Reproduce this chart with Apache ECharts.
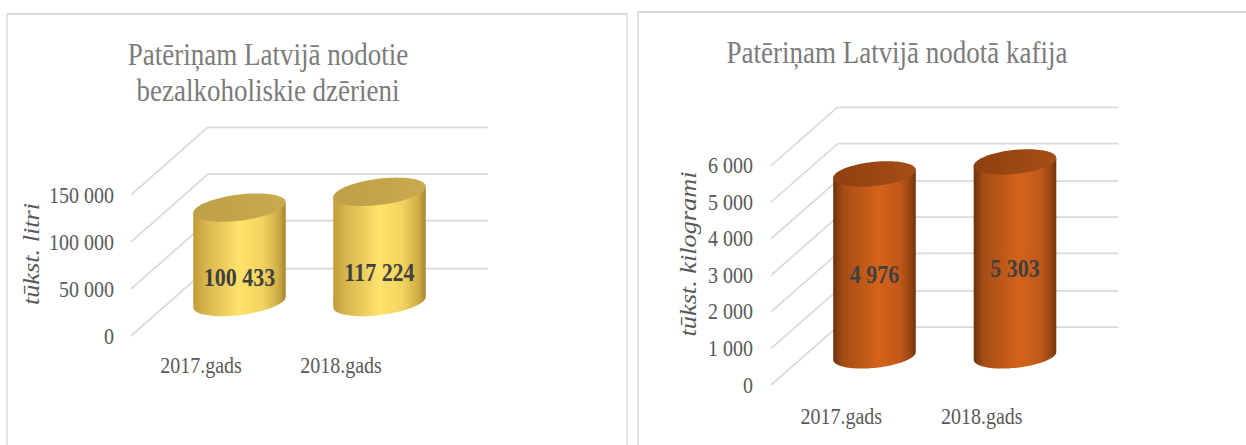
<!DOCTYPE html>
<html><head><meta charset="utf-8">
<script src="https://cdn.jsdelivr.net/npm/echarts@6/dist/echarts.min.js"></script>
<style>
html,body{margin:0;padding:0;background:#fff;width:1246px;height:445px;}
#wrap{position:relative;width:1246px;height:445px;overflow:visible;}
#c{position:absolute;left:0;top:0;width:1246px;height:381px;transform:scaleY(1.16798);transform-origin:0 0;}
</style></head><body><div id="wrap"><div id="c"></div></div>
<script>
// ---- data ----
const categories = ['2017.gads', '2018.gads'];
const drinksValues = [100433, 117224];
const coffeeValues = [4976, 5303];
const drinksTicks = [0, 50000, 100000, 150000];
const coffeeTicks = [0, 1000, 2000, 3000, 4000, 5000, 6000];
const drinksTitle = 'Patēriņam Latvijā nodotie\nbezalkoholiskie dzērieni';
const coffeeTitle = 'Patēriņam Latvijā nodotā kafija';
const drinksUnit = 'tūkst. litri';
const coffeeUnit = 'tūkst. kilogrami';

// ---- layout / style ----
const S = 445 / 381;           // vertical stretch of the original picture
const FONT = '"Liberation Serif", "Times New Roman", serif';
const fmt = v => String(v).replace(/\B(?=(\d{3})+(?!\d))/g, ' ');

const panels = [
  { values: drinksValues, ticks: drinksTicks, title: drinksTitle, unit: drinksUnit,
    frontLeft: 131, plotW: 280, frontBottom: 336 / S, plotH: 141 / S, dx: 77, dy: 68 / S,
    rxFrac: 0.332, ry: 11.2, tilt: -6 * Math.PI / 180, labelFrac: 0.265,
    titleX: 268, titleY: 61.5, unitX: 30.7, unitY: 254 / S,
    yLabelMargin: 17, xLabelMargin: 15,
    border: { x: 7, y: 14 / S, w: 620 },
    body: [[0, '#bf9b3b'], [0.12, '#d6b34b'], [0.5, '#ffe36c'], [0.75, '#f3d35f'], [0.92, '#cfad45'], [1, '#a3862d']],
    cap: [[0, '#bf9f47'], [1, '#c9aa4f']] },
  { values: coffeeValues, ticks: coffeeTicks, title: coffeeTitle, unit: coffeeUnit,
    frontLeft: 771, plotW: 281, frontBottom: 385 / S, plotH: 219.4 / S, dx: 66.5, dy: 58.3 / S,
    rxFrac: 0.295, ry: 10.3, tilt: -5 * Math.PI / 180, labelFrac: 0.45,
    titleX: 897, titleY: 44.7, unitX: 688, unitY: 254 / S,
    yLabelMargin: 18, xLabelMargin: 17,
    border: { x: 638, y: 12 / S, w: 700 },
    body: [[0, '#6b320b'], [0.12, '#a44d15'], [0.55, '#d4631a'], [0.8, '#c2591a'], [0.93, '#9a4612'], [1, '#6e340c']],
    cap: [[0, '#8e400f'], [1, '#a64e16']] }
];

const grids = [], xAxes = [], yAxes = [], series = [], graphics = [];

panels.forEach((P, pi) => {
  const maxV = P.ticks[P.ticks.length - 1];
  const interval = P.ticks[1] - P.ticks[0];
  for (let k = 0; k < 3; k++) {   // 0 front, 1 middle (bars), 2 back (grid lines)
    const gi = grids.length;
    grids.push({ left: P.frontLeft + k * P.dx / 2, top: P.frontBottom - P.plotH - k * P.dy / 2,
                 width: P.plotW, height: P.plotH, containLabel: false, outerBoundsMode: 'none' });
    xAxes.push({ type: 'category', gridIndex: gi, data: categories,
                 axisLine: { show: false }, axisTick: { show: false },
                 axisLabel: k === 0 ? { show: true, color: '#595959', fontSize: 20, fontFamily: FONT, margin: P.xLabelMargin }
                                    : { show: false },
                 splitLine: { show: false } });
    yAxes.push({ type: 'value', gridIndex: gi, min: P.ticks[0], max: maxV, interval: interval,
                 axisLine: { show: false }, axisTick: { show: false },
                 axisLabel: k === 0 ? { show: true, color: '#595959', fontSize: 20, fontFamily: FONT,
                                        margin: P.yLabelMargin, formatter: v => fmt(v) }
                                    : { show: false },
                 splitLine: k === 2 ? { show: true, lineStyle: { color: '#d9d9d9', width: 1.5 } } : { show: false } });
  }
  const gFront = pi * 3, gMid = pi * 3 + 1, gBack = pi * 3 + 2;

  // slanted depth lines
  series.push({
    type: 'custom', xAxisIndex: gBack, yAxisIndex: gBack, z: 1, silent: true,
    data: P.ticks.map(v => [0, v]),
    renderItem: (params, api) => {
      const p = api.coord([0, api.value(1)]);
      const band = api.size([1, 0])[0];
      const x2 = p[0] - band / 2;
      return { type: 'line', shape: { x1: x2 - P.dx, y1: p[1] + P.dy, x2: x2, y2: p[1] },
               style: { stroke: '#d9d9d9', lineWidth: 1.5 } };
    }
  });

  // cylinders
  series.push({
    type: 'custom', xAxisIndex: gMid, yAxisIndex: gMid, z: 5, silent: true,
    data: P.values.map((v, i) => [i, v]),
    renderItem: (params, api) => {
      const i = api.value(0), v = api.value(1);
      const base = api.coord([i, 0]), top = api.coord([i, v]);
      const band = api.size([1, 0])[0];
      const rx = band * P.rxFrac, ry = P.ry;
      const c = Math.cos(P.tilt), s = Math.sin(P.tilt);
      const pt = (cx, cy, t) => [cx + rx * Math.cos(t) * c - ry * Math.sin(t) * s,
                                 cy + rx * Math.cos(t) * s + ry * Math.sin(t) * c];
      const t0 = Math.atan2(-ry * s, rx * c);
      const body = [pt(top[0], top[1], t0 + Math.PI)];
      const N = 60;
      for (let k = 0; k <= N; k++) body.push(pt(base[0], base[1], t0 + Math.PI - Math.PI * k / N));
      body.push(pt(top[0], top[1], t0));
      const cap = [];
      for (let k = 0; k < 90; k++) cap.push(pt(top[0], top[1], 2 * Math.PI * k / 90));
      const grad = stops => new echarts.graphic.LinearGradient(0, 0, 1, 0,
                      stops.map(s2 => ({ offset: s2[0], color: s2[1] })));
      const ly = base[1] - (base[1] - top[1]) * P.labelFrac;
      return { type: 'group', children: [
        { type: 'polygon', shape: { points: body }, style: { fill: grad(P.body) } },
        { type: 'polygon', shape: { points: cap }, style: { fill: grad(P.cap) } },
        { type: 'text', style: { text: fmt(v), x: base[0], y: ly,
            font: 'bold 22px ' + FONT, fill: '#404040',
            align: 'center', verticalAlign: 'middle', textAlign: 'center', textVerticalAlign: 'middle' } }
      ] };
    }
  });

  // panel border, title, unit label
  graphics.push({ type: 'rect', z: -10, silent: true,
    shape: { x: P.border.x, y: P.border.y, width: P.border.w, height: 600 },
    style: { fill: 'none', stroke: '#d9d9d9', lineWidth: 1.5 } });
  graphics.push({ type: 'text', x: P.titleX, y: P.titleY, silent: true,
    style: { text: P.title, font: '27px ' + FONT, fill: '#7b7b7b', lineHeight: 36 / S,
             align: 'center', verticalAlign: 'middle', textAlign: 'center', textVerticalAlign: 'middle' } });
  graphics.push({ type: 'text', x: P.unitX, y: P.unitY, rotation: Math.PI / 2, silent: true,
    style: { text: P.unit, font: 'italic 22.5px ' + FONT, fill: '#595959',
             align: 'center', verticalAlign: 'middle', textAlign: 'center', textVerticalAlign: 'middle' } });
});

const chart = echarts.init(document.getElementById('c'), null, { renderer: 'svg' });
chart.setOption({
  animation: false,
  backgroundColor: '#ffffff',
  grid: grids, xAxis: xAxes, yAxis: yAxes, series: series,
  graphic: { elements: graphics }
});
</script>
</body></html>
